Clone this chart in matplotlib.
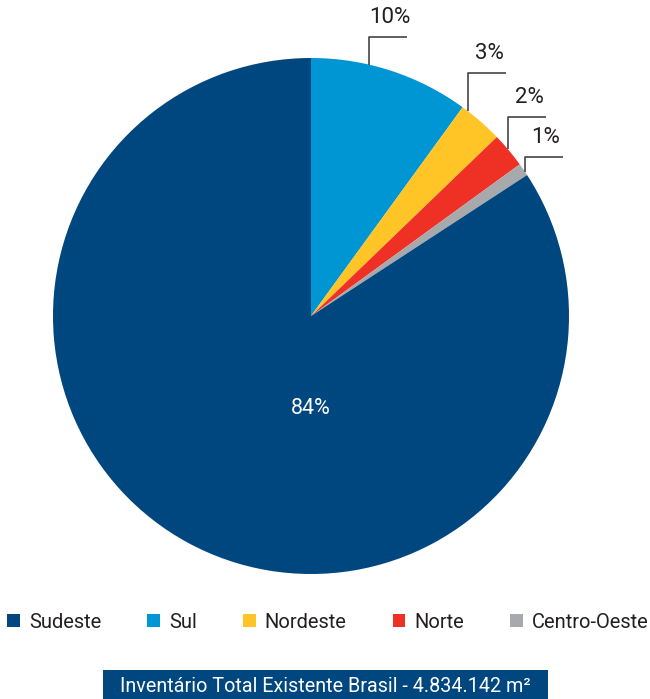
import matplotlib
matplotlib.use("Agg")
import matplotlib.pyplot as plt
from matplotlib.patches import Patch, Rectangle
import numpy as np

plt.rcParams['font.family'] = ['Roboto', 'DejaVu Sans']

# data
regions = ['Sudeste', 'Sul', 'Nordeste', 'Norte', 'Centro-Oeste']
shares = [84.2, 10.0, 2.8, 2.2, 0.8]
labels = ['84%', '10%', '3%', '2%', '1%']
colors = ['#00467F', '#0096D3', '#FFC425', '#EE3124', '#A7A9AC']
total_text = 'Inventário Total Existente Brasil - 4.834.142 m²'

W, H = 650, 699
fig = plt.figure(figsize=(W / 100, H / 100), dpi=100)

# pie axes: centre (311, 316) px, radius 258 px
cx, cy, R = 311, 316, 258
ax = fig.add_axes([(cx - R) / W, (H - cy - R) / H, 2 * R / W, 2 * R / H])
ax.axis('off')

# draw clockwise from 12 o'clock: Sul, Nordeste, Norte, Centro-Oeste, Sudeste
order = [1, 2, 3, 4, 0]
wedges, _ = ax.pie([shares[i] for i in order], colors=[colors[i] for i in order],
                   startangle=90, counterclock=False, radius=1,
                   wedgeprops=dict(linewidth=0))
ax.set_xlim(-1, 1)
ax.set_ylim(-1, 1)

txt_color = '#231F20'
line_color = '#444444'

# big slice label
ax.text(0, -0.357, labels[0], ha='center', va='center', color='white', fontsize=15.5)

# leader lines for small slices (anchor angle on rim, height of elbow)
anchor_deg = [77, 52.5, 40.2, 34]
elbow_y = [1.081, 0.942, 0.771, 0.616]
seg = 0.148
for k, i in enumerate([1, 2, 3, 4]):
    a = np.deg2rad(anchor_deg[k])
    x0, y0 = np.cos(a), np.sin(a)
    ax.plot([x0, x0, x0 + seg], [y0, elbow_y[k], elbow_y[k]],
            color=line_color, lw=1.2, clip_on=False, solid_capstyle='butt')
    ax.text(x0 + seg * 0.55, elbow_y[k] + 0.035, labels[i], ha='center', va='bottom',
            color=txt_color, fontsize=16)

# legend
handles = [Patch(facecolor=c, edgecolor='none') for c in colors]
fig.legend(handles, regions, loc='center', bbox_to_anchor=(328 / W, 1 - 622 / H),
           ncol=5, frameon=False, fontsize=14.5, handlelength=0.62, handleheight=0.62,
           handletextpad=0.45, columnspacing=2.3, borderpad=0, labelcolor=txt_color)

# bottom box
fig.add_artist(Rectangle((103 / W, 0), (548 - 103) / W, (H - 670) / H,
                         transform=fig.transFigure, facecolor='#00467F', edgecolor='none'))
fig.text(325.5 / W, 1 - 686 / H, total_text, ha='center', va='center',
         color='white', fontsize=14.2)

fig.savefig('out.png', dpi=100)
